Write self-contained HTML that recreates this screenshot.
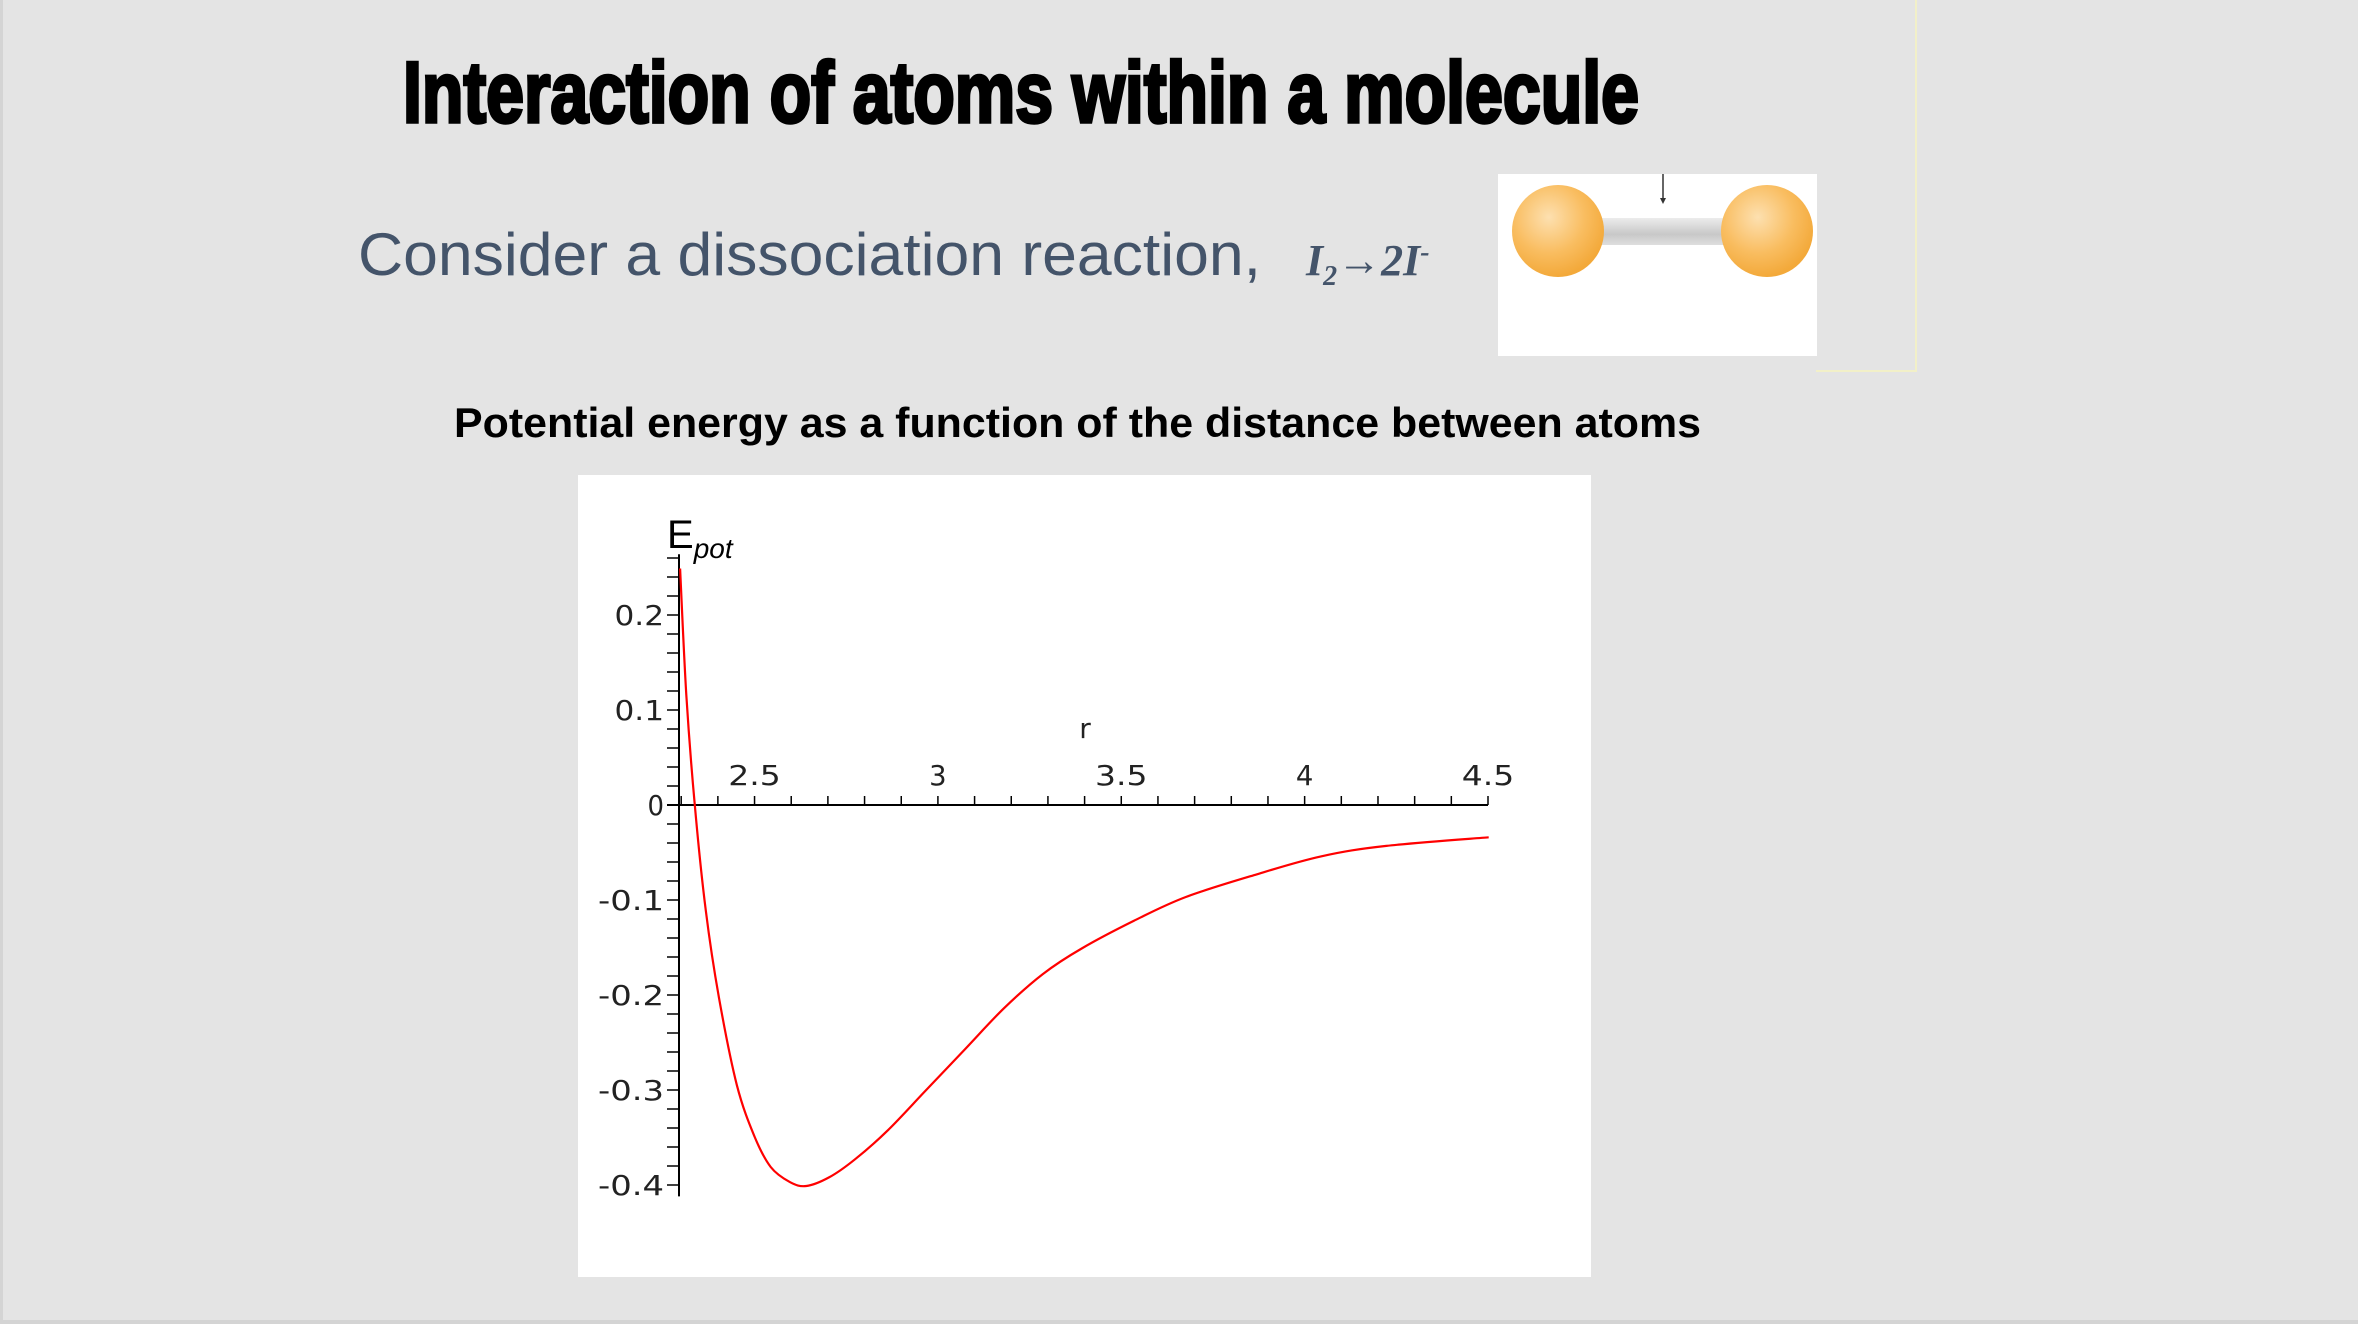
<!DOCTYPE html>
<html><head><meta charset="utf-8"><style>
html,body{margin:0;padding:0;background:#e4e4e4;}
svg{display:block;}
</style></head><body>
<svg width="2358" height="1324" viewBox="0 0 2358 1324" xmlns="http://www.w3.org/2000/svg">
<rect x="0" y="0" width="2358" height="1324" fill="#e4e4e4"/>
<rect x="0" y="0" width="3" height="1324" fill="#d4d4d4"/>
<rect x="0" y="1320" width="2358" height="4" fill="#d4d4d4"/>

<text x="403" y="122" textLength="1236" lengthAdjust="spacingAndGlyphs" font-family="'Liberation Sans Narrow','Liberation Sans',sans-serif" font-weight="bold" font-size="86" fill="#000" stroke="#000" stroke-width="3.5">Interaction of atoms within a molecule</text>

<text x="358" y="275" textLength="903" lengthAdjust="spacingAndGlyphs" font-family="'Liberation Sans',sans-serif" font-size="60" fill="#44546a">Consider a dissociation reaction,</text>
<text x="1306" y="275" font-family="'Liberation Serif',serif" font-style="italic" font-weight="bold" font-size="44" fill="#44546a">I<tspan font-size="28" dy="10">2</tspan><tspan dy="-10">→2I</tspan><tspan font-size="28" dy="-14">-</tspan></text>

<g>
<polyline points="1916,0 1916,371 1816,371" fill="none" stroke="#f2f0c8" stroke-width="2"/>
<rect x="1498" y="174" width="319" height="182" fill="#ffffff"/>
<defs>
<radialGradient id="ball" cx="0.4" cy="0.35" r="0.65"><stop offset="0" stop-color="#fde0b0"/><stop offset="0.6" stop-color="#f9bd60"/><stop offset="1" stop-color="#f3a93a"/></radialGradient>
<linearGradient id="bar" x1="0" y1="0" x2="0" y2="1"><stop offset="0" stop-color="#ececec"/><stop offset="0.6" stop-color="#c8c8c8"/><stop offset="1" stop-color="#dedede"/></linearGradient>
</defs>
<rect x="1600" y="218" width="125" height="27" fill="url(#bar)"/>
<ellipse cx="1558" cy="231" rx="46" ry="46" fill="url(#ball)"/>
<ellipse cx="1767" cy="231" rx="46" ry="46" fill="url(#ball)"/>
<line x1="1663" y1="174" x2="1663" y2="200" stroke="#333" stroke-width="1.5"/>
<polygon points="1660,198 1666,198 1663,204" fill="#333"/>
</g>

<text x="454" y="437" textLength="1247" lengthAdjust="spacingAndGlyphs" font-family="'Liberation Sans',sans-serif" font-weight="bold" font-size="42" fill="#000">Potential energy as a function of the distance between atoms</text>

<rect x="578" y="475" width="1013" height="802" fill="#ffffff"/>
<g id="chart"></g>
</svg>
<script>
const rValues = [2.297,2.314,2.337,2.367,2.403,2.452,2.500,2.544,2.597,2.641,2.703,2.774,2.862,2.968,3.074,3.180,3.286,3.392,3.534,3.675,3.869,4.046,4.223,4.502];
const energyValues = [0.249,0.116,0,-0.111,-0.203,-0.295,-0.349,-0.381,-0.397,-0.401,-0.392,-0.373,-0.343,-0.300,-0.257,-0.214,-0.178,-0.151,-0.122,-0.097,-0.073,-0.054,-0.043,-0.034];
const xTickLabels = ["2.5","3","3.5","4","4.5"];
const xTickValues = [2.5,3,3.5,4,4.5];
const yTickLabels = ["0.2","0.1","0","-0.1","-0.2","-0.3","-0.4"];
const yTickValues = [0.2,0.1,0,-0.1,-0.2,-0.3,-0.4];

const NS = "http://www.w3.org/2000/svg";
const g = document.getElementById('chart');
const xOrigin = 679, xMin = 2.294, xMax = 4.5, xPxMax = 1488;
function xs(r){ return xOrigin + (r - xMin) / (xMax - xMin) * (xPxMax - xOrigin); }
function ys(e){ return 805 - e * 950; }
function mk(tag, attrs){ const el = document.createElementNS(NS, tag); for (const k in attrs) el.setAttribute(k, attrs[k]); g.appendChild(el); return el; }

let ya = mk('line', {x1: xOrigin, y1: ys(0.264), x2: xOrigin, y2: ys(-0.412), stroke: '#000', 'stroke-width': 2});


for (let i = -20; i <= 13; i++) {
  const v = i * 0.02;
  const t = mk('line', {x1: xOrigin - 12, y1: ys(v), x2: xOrigin, y2: ys(v), stroke: '#000', 'stroke-width': 1.5});
  
  
}
let xa = mk('line', {x1: xOrigin - 12, y1: ys(0), x2: xs(4.5), y2: ys(0), stroke: '#000', 'stroke-width': 2});


for (let i = 23; i <= 45; i++) {
  const v = i / 10;
  const t = mk('line', {x1: xs(v), y1: ys(0) - 9, x2: xs(v), y2: ys(0), stroke: '#000', 'stroke-width': 1.5});
  
  
}
yTickLabels.forEach((s, i) => {
  const w = s.length * 16.5;
  const t = mk('text', {x: 664 - w, y: ys(yTickValues[i]) + 10, textLength: w, lengthAdjust: 'spacingAndGlyphs', 'font-family': "'DejaVu Sans',sans-serif", 'font-size': 28, fill: '#222'});
  t.textContent = s;
  
  
});
xTickLabels.forEach((s, i) => {
  const w = s.length * 17.5;
  const t = mk('text', {x: xs(xTickValues[i]) - w / 2, y: 785, textLength: w, lengthAdjust: 'spacingAndGlyphs', 'font-family': "'DejaVu Sans',sans-serif", 'font-size': 28, fill: '#222'});
  t.textContent = s;
  
  
});
let xl = mk('text', {x: 1085, y: 738, 'text-anchor': 'middle', 'font-family': "'DejaVu Sans',sans-serif", 'font-size': 28, fill: '#222'});
xl.textContent = 'r';


let yl = mk('text', {x: 667, y: 548, 'font-family': "'Liberation Sans',sans-serif", 'font-size': 40, fill: '#000'});
yl.innerHTML = 'E<tspan font-style="italic" font-size="28" dy="10">pot</tspan>';



// smooth Catmull-Rom path through data points
const P = rValues.map((r, i) => [xs(r), ys(energyValues[i])]);
let d = 'M' + P[0][0].toFixed(1) + ',' + P[0][1].toFixed(1);
for (let i = 0; i < P.length - 1; i++) {
  const p0 = P[Math.max(0, i - 1)], p1 = P[i], p2 = P[i + 1], p3 = P[Math.min(P.length - 1, i + 2)];
  const c1 = [p1[0] + (p2[0] - p0[0]) / 6, p1[1] + (p2[1] - p0[1]) / 6];
  const c2 = [p2[0] - (p3[0] - p1[0]) / 6, p2[1] - (p3[1] - p1[1]) / 6];
  d += ' C' + c1[0].toFixed(1) + ',' + c1[1].toFixed(1) + ' ' + c2[0].toFixed(1) + ',' + c2[1].toFixed(1) + ' ' + p2[0].toFixed(1) + ',' + p2[1].toFixed(1);
}
let curve = mk('path', {d: d, fill: 'none', stroke: '#ff0000', 'stroke-width': 2.2, 'stroke-linejoin': 'round'});


</script>
</body></html>
